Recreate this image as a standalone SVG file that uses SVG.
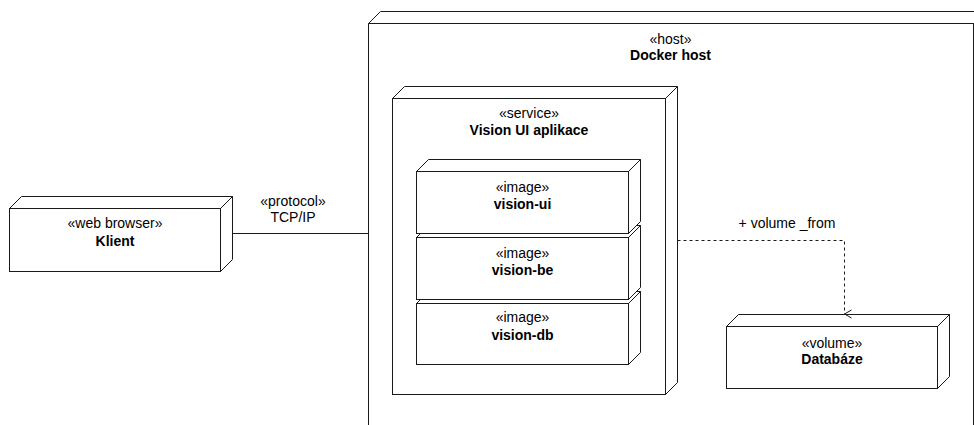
<svg xmlns="http://www.w3.org/2000/svg" width="974" height="425" viewBox="0 0 974 425">
  <defs>
    <style>
      .box { fill: #ffffff; stroke: #1a1a1a; stroke-width: 1; }
      .edge { fill: none; stroke: #1a1a1a; stroke-width: 1; }
      .dash { stroke-dasharray: 3 3; }
      text { font-family: "Liberation Sans", Arial, Helvetica, sans-serif; font-size: 14px; fill: #000000; text-anchor: middle; }
      .name { font-weight: bold; }
    </style>
    <marker id="openArrow" markerWidth="10" markerHeight="10" refX="5" refY="9" orient="auto-start-reverse" markerUnits="userSpaceOnUse" viewBox="0 0 10 10">
      <path d="M1,2 L5,9 L9,2" fill="none" stroke="#1a1a1a" stroke-width="1"/>
    </marker>
  </defs>

  <!-- Docker host node (extends past the canvas edges) -->
  <g id="docker-host">
    <path class="box" d="M368.5,23.5 L380.5,11.5 L990,11.5 L990,23.5 Z"/>
    <path class="box" d="M368.5,23.5 L973.5,23.5 L973.5,440 L368.5,440 Z"/>
    <text x="670.5" y="44">«host»</text>
    <text class="name" x="670.5" y="60">Docker host</text>
  </g>

  <!-- Vision UI service node -->
  <g id="vision-ui-aplikace">
    <path class="box" d="M392.5,98.5 L404.5,86.5 L677.5,86.5 L665.5,98.5 Z"/>
    <path class="box" d="M665.5,98.5 L677.5,86.5 L677.5,382.5 L665.5,394.5 Z"/>
    <rect class="box" x="392.5" y="98.5" width="273" height="296"/>
    <text x="529" y="118">«service»</text>
    <text class="name" x="529" y="135">Vision UI aplikace</text>
  </g>

  <!-- Images, stacked bottom to top so upper boxes overlap lower ones -->
  <g id="vision-db">
    <path class="box" d="M416.5,303.5 L428.5,291.5 L640.5,291.5 L628.5,303.5 Z"/>
    <path class="box" d="M628.5,303.5 L640.5,291.5 L640.5,352.5 L628.5,364.5 Z"/>
    <rect class="box" x="416.5" y="303.5" width="212" height="61"/>
    <text x="522.5" y="322">«image»</text>
    <text class="name" x="522.5" y="340">vision-db</text>
  </g>
  <g id="vision-be">
    <path class="box" d="M416.5,237.5 L428.5,225.5 L640.5,225.5 L628.5,237.5 Z"/>
    <path class="box" d="M628.5,237.5 L640.5,225.5 L640.5,287.5 L628.5,299.5 Z"/>
    <rect class="box" x="416.5" y="237.5" width="212" height="62"/>
    <text x="522.5" y="258">«image»</text>
    <text class="name" x="522.5" y="275">vision-be</text>
  </g>
  <g id="vision-ui">
    <path class="box" d="M416.5,171.5 L428.5,159.5 L640.5,159.5 L628.5,171.5 Z"/>
    <path class="box" d="M628.5,171.5 L640.5,159.5 L640.5,221.5 L628.5,233.5 Z"/>
    <rect class="box" x="416.5" y="171.5" width="212" height="62"/>
    <text x="522.5" y="192">«image»</text>
    <text class="name" x="522.5" y="209">vision-ui</text>
  </g>

  <!-- Web browser client node -->
  <g id="klient">
    <path class="box" d="M9.5,208.5 L21.5,196.5 L232.5,196.5 L220.5,208.5 Z"/>
    <path class="box" d="M220.5,208.5 L232.5,196.5 L232.5,259.5 L220.5,271.5 Z"/>
    <rect class="box" x="9.5" y="208.5" width="211" height="63"/>
    <text x="115" y="228">«web browser»</text>
    <text class="name" x="115" y="246">Klient</text>
  </g>

  <!-- Databaze volume node -->
  <g id="databaze">
    <path class="box" d="M726.5,326.5 L738.5,314.5 L949.5,314.5 L937.5,326.5 Z"/>
    <path class="box" d="M937.5,326.5 L949.5,314.5 L949.5,376.5 L937.5,388.5 Z"/>
    <rect class="box" x="726.5" y="326.5" width="211" height="62"/>
    <text x="832" y="348">«volume»</text>
    <text class="name" x="832" y="364">Databáze</text>
  </g>

  <!-- Connectors -->
  <g id="connectors">
    <path class="edge" d="M232.5,233.5 L368.5,233.5"/>
    <text x="293" y="206">«protocol»</text>
    <text x="293" y="222">TCP/IP</text>

    <path class="edge dash" d="M677.5,240.5 L844.5,240.5 L844.5,314" marker-end="url(#openArrow)"/>
    <text x="787" y="228">+ volume _from</text>
  </g>
</svg>
